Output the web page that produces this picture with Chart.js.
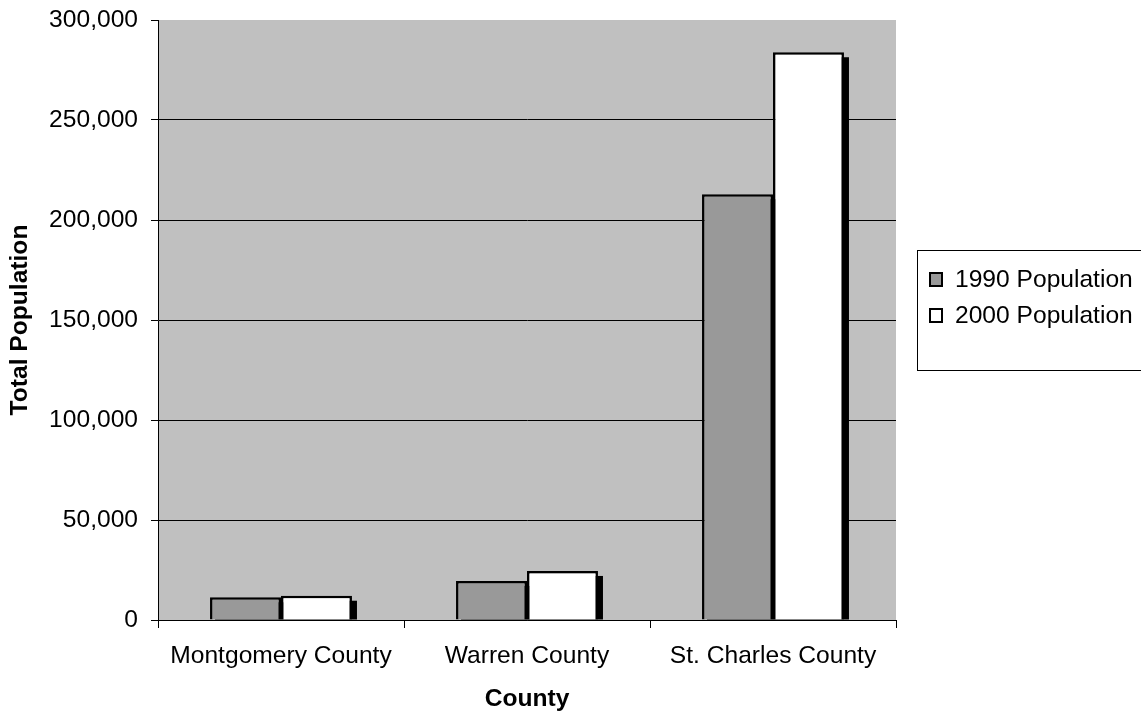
<!DOCTYPE html>
<html>
<head>
<meta charset="utf-8">
<script src="https://cdn.jsdelivr.net/npm/chart.js@4"></script>
<style>
  html, body { margin: 0; padding: 0; background: #fff; }
  #wrap { width: 1141px; height: 712px; position: relative; }
</style>
</head>
<body>
<div id="wrap"><canvas id="c" width="1141" height="712"></canvas></div>
<script>
const categories = ["Montgomery County", "Warren County", "St. Charles County"];
const pop1990 = [11355, 19534, 212907];
const pop2000 = [12136, 24525, 283883];
const seriesLabels = ["1990 Population", "2000 Population"];
const yAxisTitle = "Total Population";
const xAxisTitle = "County";

const FONT = "'Liberation Sans', Arial, sans-serif";
const FS = 24.6;

const plotBg = {
  id: 'plotBg',
  beforeDraw(chart) {
    const {ctx, chartArea: a} = chart;
    ctx.save();
    ctx.fillStyle = '#c0c0c0';
    ctx.fillRect(a.left, a.top, a.right - a.left, a.bottom - a.top);
    ctx.restore();
  }
};

const barShadow = {
  id: 'barShadow',
  beforeDatasetsDraw(chart) {
    const {ctx, chartArea: a} = chart;
    ctx.save();
    ctx.beginPath();
    ctx.rect(a.left, a.top, a.right - a.left, a.bottom - a.top);
    ctx.clip();
    ctx.fillStyle = '#000';
    chart.data.datasets.forEach((ds, i) => {
      const meta = chart.getDatasetMeta(i);
      meta.data.forEach(el => {
        const p = el.getProps(['x', 'y', 'base', 'width'], true);
        const off = 5;
        ctx.fillRect(p.x - p.width / 2 + off, p.y + off, p.width, p.base - p.y - off);
      });
    });
    ctx.restore();
  }
};

const boxLegend = {
  id: 'boxLegend',
  afterDraw(chart) {
    const ctx = chart.ctx;
    ctx.save();
    ctx.strokeStyle = '#000';
    ctx.lineWidth = 1;
    ctx.strokeRect(917.5, 250.5, 240, 120);
    const rows = [280, 316];
    chart.data.datasets.forEach((ds, i) => {
      const cy = rows[i];
      ctx.fillStyle = ds.backgroundColor;
      ctx.fillRect(930, cy - 7, 12, 13);
      ctx.lineWidth = 2;
      ctx.strokeStyle = '#000';
      ctx.strokeRect(930, cy - 7, 12, 13);
      ctx.fillStyle = '#000';
      ctx.font = FS + 'px ' + FONT;
      ctx.textBaseline = 'middle';
      ctx.textAlign = 'left';
      ctx.fillText(ds.label, 955, cy);
    });
    ctx.restore();
  }
};

new Chart(document.getElementById('c'), {
  type: 'bar',
  data: {
    labels: categories,
    datasets: [
      { label: seriesLabels[0], data: pop1990, backgroundColor: '#999999', borderColor: '#000', borderWidth: 2.5,
        categoryPercentage: 0.577, barPercentage: 1.0 },
      { label: seriesLabels[1], data: pop2000, backgroundColor: '#ffffff', borderColor: '#000', borderWidth: 2.5,
        categoryPercentage: 0.577, barPercentage: 1.0 }
    ]
  },
  options: {
    responsive: false,
    animation: false,
    devicePixelRatio: 1,
    layout: { padding: { left: 0, top: 20, right: 245, bottom: 0 } },
    plugins: { legend: { display: false }, tooltip: { enabled: false } },
    scales: {
      x: {
        offset: true,
        grid: { offset: true, drawOnChartArea: false, color: '#000', tickLength: 8, tickColor: '#000' },
        border: { color: '#000', width: 1 },
        ticks: { color: '#000', font: { family: FONT, size: FS }, padding: 13, maxRotation: 0, autoSkip: false },
        title: { display: true, text: xAxisTitle, color: '#000', font: { family: FONT, size: FS, weight: 'bold', lineHeight: 1 }, padding: { top: 0, bottom: 0 } },
        afterFit(s) { s.height = 92; s.paddingLeft = 0; s.paddingRight = 0; }
      },
      y: {
        min: 0, max: 300000,
        grid: {
          color: (c) => (c.tick && c.tick.value === 300000) ? 'rgba(0,0,0,0)' : '#000',
          tickColor: '#000', tickLength: 7, lineWidth: 1
        },
        border: { color: '#000', width: 1 },
        ticks: {
          stepSize: 50000, color: '#000', font: { family: FONT, size: FS }, padding: 13,
          callback: (v) => v.toLocaleString('en-US')
        },
        title: { display: true, text: yAxisTitle, color: '#000', font: { family: FONT, size: FS, weight: 'bold' }, padding: { top: 5, bottom: 0 } },
        afterFit(s) { s.width = 158; s.paddingTop = 0; s.paddingBottom = 0; }
      }
    }
  },
  plugins: [plotBg, barShadow, boxLegend]
});
</script>
</body>
</html>
